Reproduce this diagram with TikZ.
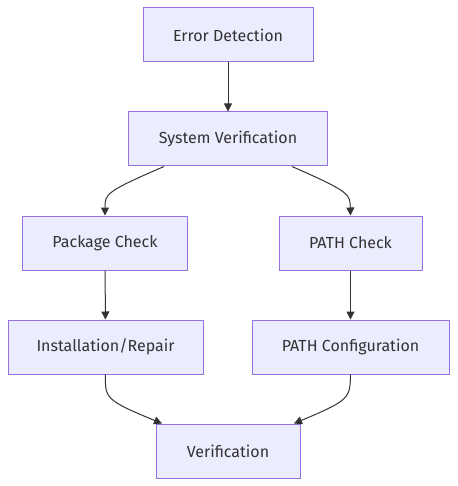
\documentclass[tikz,border=0pt]{standalone}
\usepackage{fontspec}
\setmainfont{Fira Sans}
\usepackage{tikz}
\usetikzlibrary{arrows.meta}
\definecolor{boxfill}{HTML}{ECECFF}
\definecolor{boxline}{HTML}{9370DB}
\definecolor{ink}{HTML}{333333}
\tikzset{
  stepbox/.style={draw=boxline,fill=boxfill,line width=1pt,text=ink,
    minimum height=54pt,inner sep=0pt,font=\fontsize{16}{19}\selectfont},
  flow/.style={draw=ink,line width=1pt,-{Triangle[length=8pt,width=8pt]}}
}
\begin{document}
\begin{tikzpicture}[x=1pt,y=-1pt]
        \useasboundingbox (0,0) rectangle (457,486);
        \node[stepbox,minimum width=170pt] (ed) at (228,35) {Error Detection};
        \node[stepbox,minimum width=199pt] (sv) at (228,139) {System Verification};
        \node[stepbox,minimum width=165pt] (pc) at (105,243) {Package Check};
        \node[stepbox,minimum width=143pt] (ptc) at (350.5,243) {PATH Check};
        \node[stepbox,minimum width=195pt] (ir) at (105.5,347) {Installation/Repair};
        \node[stepbox,minimum width=197pt] (pcf) at (350.5,347) {PATH Configuration};
        \node[stepbox,minimum width=144pt] (ver) at (228,451) {Verification};
        \draw [flow] (ed) -- (sv);
        \draw [flow] ([xshift=-64pt]sv.south) .. controls (105,192) and (105,194) .. (pc.north);
        \draw [flow] ([xshift=64pt]sv.south) .. controls (350,192) and (350,194) .. (ptc.north);
        \draw [flow] (pc) -- (ir);
        \draw [flow] (ptc) -- (pcf);
        \draw [flow] (ir.south) .. controls (105,398) and (105,400) .. ([xshift=-66pt]ver.north);
        \draw [flow] (pcf.south) .. controls (350,398) and (350,400) .. ([xshift=66pt]ver.north);
    \end{tikzpicture}
\end{document}
